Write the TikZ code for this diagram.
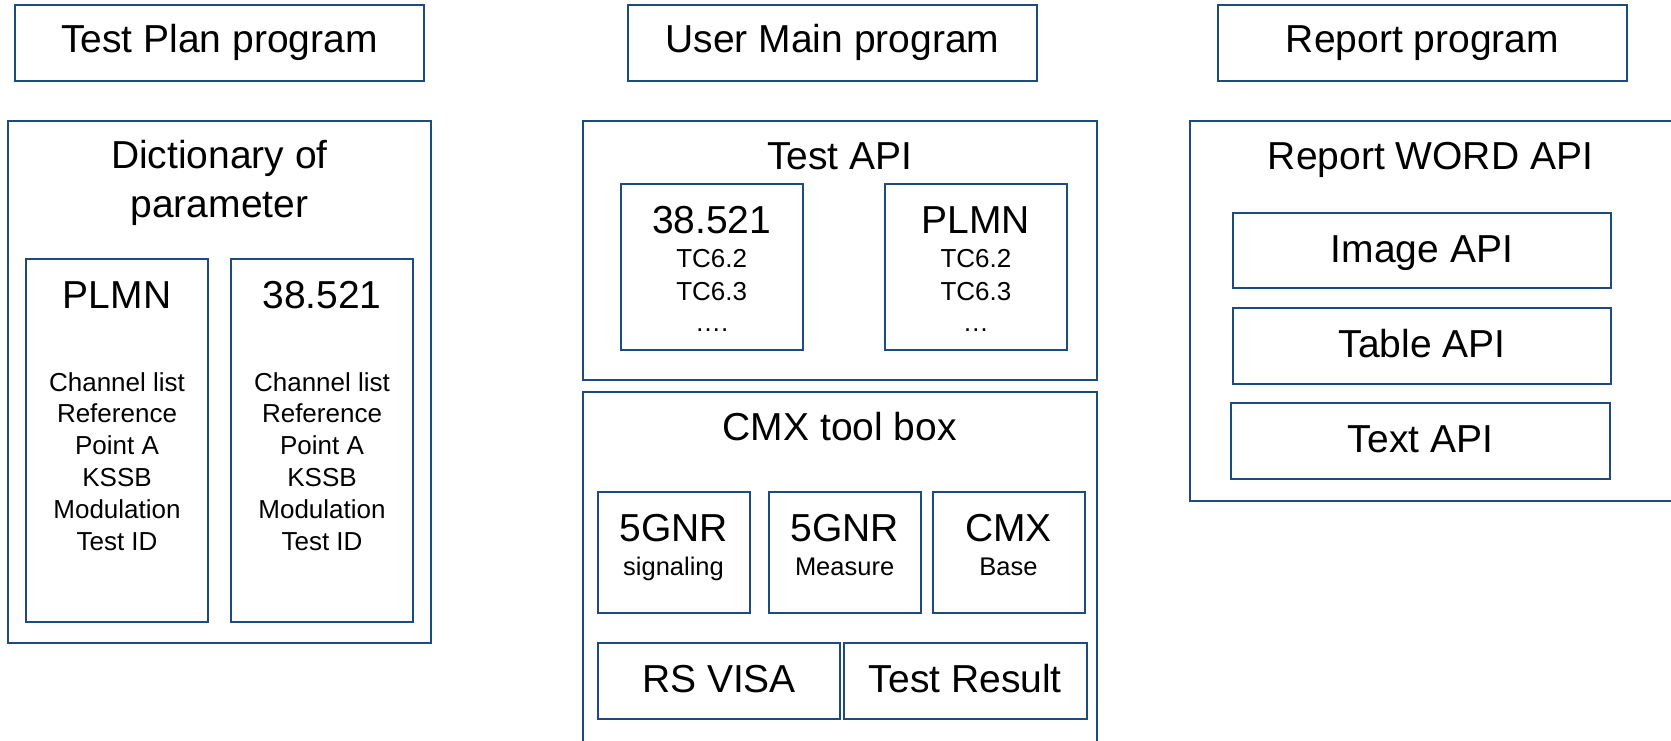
\documentclass[tikz,border=0pt]{standalone}
\usepackage{fontspec}
\setmainfont{Liberation Sans}
\definecolor{frame}{RGB}{30,75,125}
\tikzset{
  box/.style={draw=frame, line width=2pt, inner sep=0pt, outer sep=0pt},
  big/.style={font=\fontsize{39}{47}\selectfont, inner sep=0pt, anchor=base},
  small/.style={font=\fontsize{26}{31}\selectfont, inner sep=0pt, anchor=base},
  smaller/.style={font=\fontsize{25.5}{31}\selectfont, inner sep=0pt, anchor=base},
}
\begin{document}
\begin{tikzpicture}[x=1pt,y=-1pt]
\useasboundingbox (0,0) rectangle (1671,741);

% ---------- top row: programs ----------
\node[box, minimum width=409pt, minimum height=76pt] (tpp) at (219.5,43) {};
\node[big] (tppT) at (219.5,53) {Test Plan program};
\node[box, minimum width=409pt, minimum height=76pt] (ump) at (832.5,43) {};
\node[big] (umpT) at (832.5,53) {User Main program};
\node[box, minimum width=409pt, minimum height=76pt] (rp) at (1422.5,43) {};
\node[big] (rpT) at (1422.5,53) {Report program};

% ---------- left column: dictionary of parameter ----------
\node[box, minimum width=423pt, minimum height=522pt] (dict) at (219.5,382) {};
\node[big] (dictT1) at (219.5,168) {Dictionary of};
\node[big] (dictT2) at (219.5,217) {parameter};

\node[box, minimum width=182pt, minimum height=363pt] (dplmn) at (117,440.5) {};
\node[big] (dplmnT) at (117,308) {PLMN};
\foreach \t [count=\i from 0] in {Channel list, Reference, Point A, KSSB, Modulation, Test ID}
  \node[small] (dplmnL\i) at (117,391+31.8*\i) {\t};

\node[box, minimum width=182pt, minimum height=363pt] (dstd) at (322,440.5) {};
\node[big] (dstdT) at (322,308) {38.521};
\foreach \t [count=\i from 0] in {Channel list, Reference, Point A, KSSB, Modulation, Test ID}
  \node[small] (dstdL\i) at (322,391+31.8*\i) {\t};

% ---------- middle column: test API ----------
\node[box, minimum width=514pt, minimum height=259pt] (tapi) at (839.8,250.5) {};
\node[big] (tapiT) at (839.8,170) {Test API};

\node[box, minimum width=182pt, minimum height=166pt] (ta1) at (711.7,267) {};
\node[big] (ta1T) at (711.7,233) {38.521};
\node[small] (ta1a) at (711.7,267) {TC6.2};
\node[small] (ta1b) at (711.7,300) {TC6.3};
\node[small] (ta1c) at (711.7,331) {….};

\node[box, minimum width=182pt, minimum height=166pt] (ta2) at (975.9,267) {};
\node[big] (ta2T) at (975.9,233) {PLMN};
\node[small] (ta2a) at (975.9,267) {TC6.2};
\node[small] (ta2b) at (975.9,300) {TC6.3};
\node[small] (ta2c) at (975.9,331) {…};

% ---------- middle column: CMX tool box ----------
\node[box, minimum width=514pt, minimum height=380pt] (cmx) at (839.8,582) {};
\node[big] (cmxT) at (839.8,440) {CMX tool box};

\node[box, minimum width=152pt, minimum height=121pt] (sig) at (673.5,552.5) {};
\node[big] (sigT) at (673.5,541) {5GNR};
\node[smaller] (sigS) at (673.5,575) {signaling};

\node[box, minimum width=152pt, minimum height=121pt] (meas) at (844.6,552.5) {};
\node[big] (measT) at (844.6,541) {5GNR};
\node[smaller] (measS) at (844.6,575) {Measure};

\node[box, minimum width=152pt, minimum height=121pt] (base) at (1008.5,552.5) {};
\node[big] (baseT) at (1008.5,541) {CMX};
\node[smaller] (baseS) at (1008.5,575) {Base};

\node[box, minimum width=242.5pt, minimum height=76pt] (visa) at (719,681) {};
\node[big] (visaT) at (719,692) {RS VISA};
\node[box, minimum width=242.5pt, minimum height=76pt] (res) at (965.4,681) {};
\node[big] (resT) at (965.4,692) {Test Result};

% ---------- right column: report WORD API ----------
\node[box, minimum width=483pt, minimum height=380pt] (word) at (1431.5,311) {};
\node[big] (wordT) at (1430.5,170) {Report WORD API};

\node[box, minimum width=378pt, minimum height=75pt] (img) at (1422,250.5) {};
\node[big] (imgT) at (1422,262) {Image API};
\node[box, minimum width=378pt, minimum height=76pt] (tab) at (1422,346) {};
\node[big] (tabT) at (1422,357) {Table API};
\node[box, minimum width=379pt, minimum height=76pt] (txt) at (1420.5,441) {};
\node[big] (txtT) at (1420.5,452) {Text API};
\end{tikzpicture}
\end{document}
